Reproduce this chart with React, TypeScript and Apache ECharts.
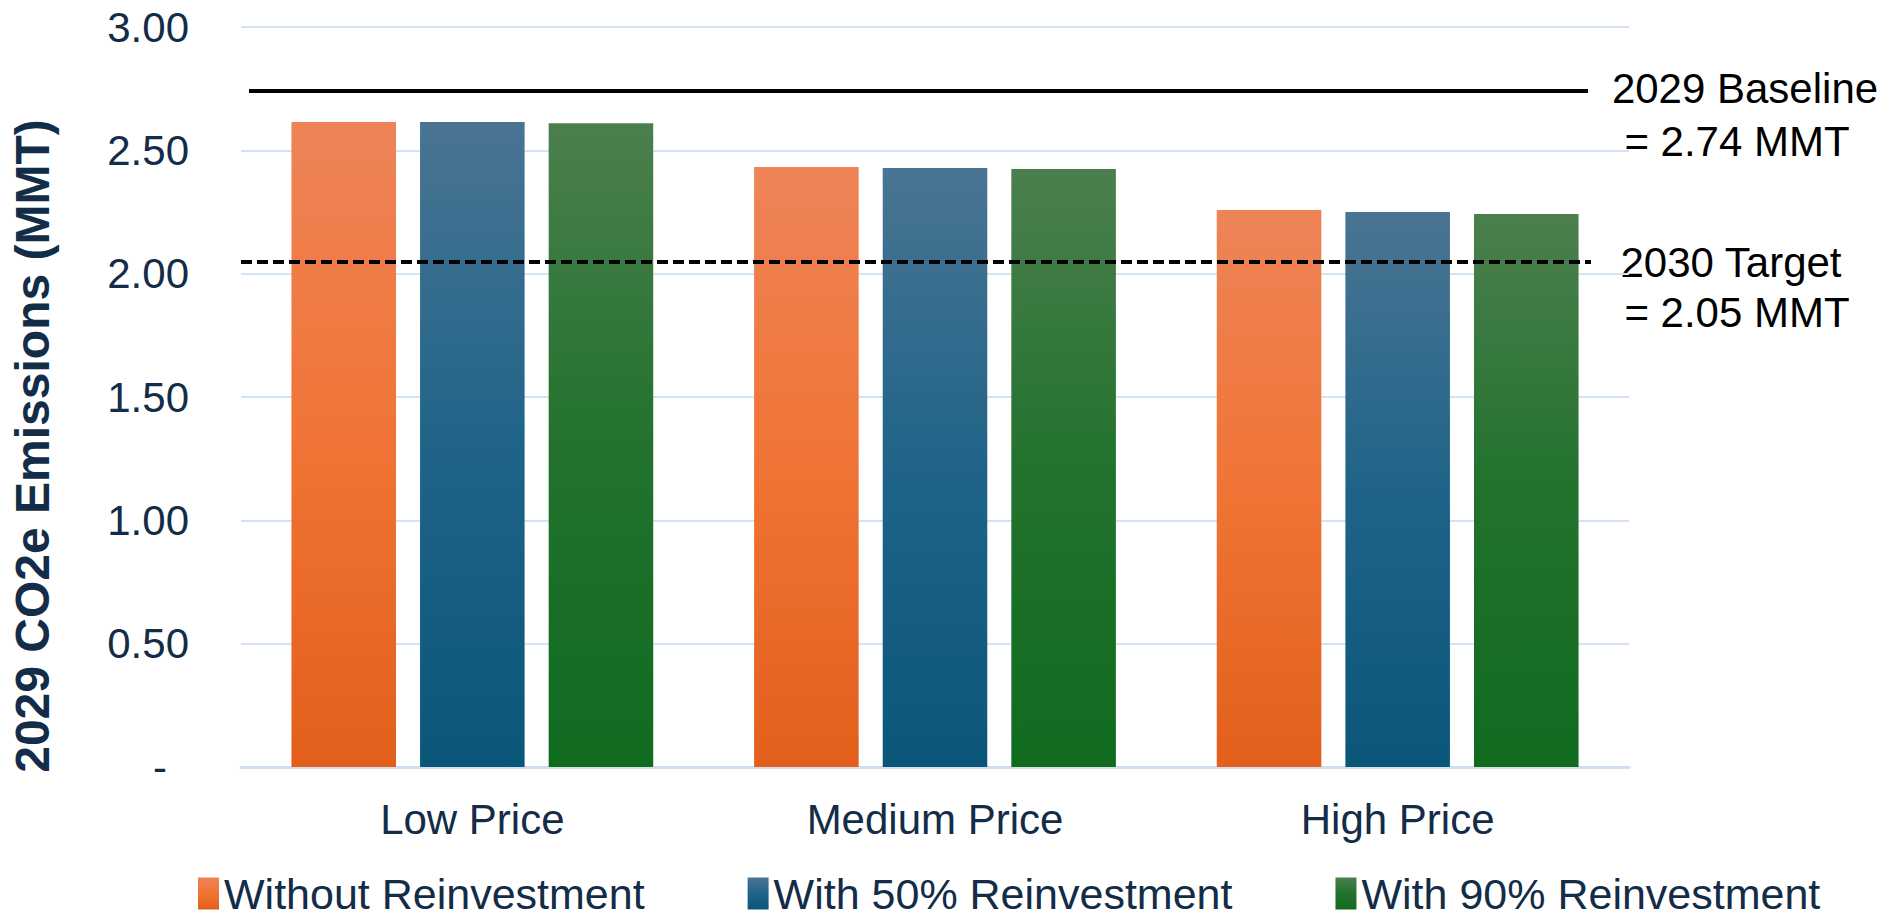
import React, { useEffect, useRef } from 'react';
import * as echarts from 'echarts';

const categories = ['Low Price', 'Medium Price', 'High Price'];
const seriesNames = ['Without Reinvestment', 'With 50% Reinvestment', 'With 90% Reinvestment'];
const withoutReinvestment = [2.615, 2.432, 2.258];
const with50Reinvestment = [2.615, 2.428, 2.25];
const with90Reinvestment = [2.61, 2.424, 2.242];
const baselineValue = 2.74;
const targetValue = 2.05;
const baselineLabel = ['2029 Baseline', '= 2.74 MMT'];
const targetLabel = ['2030 Target', '= 2.05 MMT'];
const yAxisTitle = '2029 CO2e Emissions (MMT)';

const FONT = 'Arial, "Liberation Sans", Helvetica, sans-serif';
const NAVY = '#132C47';

const grad = (stops: string[]) =>
  new echarts.graphic.LinearGradient(0, 0, 0, 1, [
    { offset: 0, color: stops[0] },
    { offset: 0.5, color: stops[1] },
    { offset: 1, color: stops[2] },
  ]);

const palettes = [
  ['#EE8458', '#F07435', '#E35F1B'],
  ['#4A7493', '#1F6488', '#0A5679'],
  ['#4B7F4E', '#22722D', '#106B1F'],
];

export default function App() {
  const ref = useRef<HTMLDivElement>(null);
  useEffect(() => {
    document.body.style.margin = '0';
    const chart = echarts.init(ref.current!, null, { renderer: 'svg' });
    const values = [withoutReinvestment, with50Reinvestment, with90Reinvestment];
    const series: any[] = values.map((vals, i) => ({
      name: seriesNames[i],
      type: 'bar',
      data: vals,
      barWidth: '22.6%',
      barGap: '23%',
      itemStyle: { color: grad(palettes[i]) },
      emphasis: { disabled: true },
    }));
    series[0].markLine = {
      silent: true,
      symbol: 'none',
      label: { show: false },
      data: [
        [
          { x: 249, yAxis: baselineValue, lineStyle: { color: '#000', width: 4, type: 'solid' } },
          { x: 1588, yAxis: baselineValue },
        ],
        [
          { x: 241, yAxis: targetValue, lineStyle: { color: '#000', width: 4, type: [11, 5] } },
          { x: 1591, yAxis: targetValue },
        ],
      ],
    };
    const option: any = {
      animation: false,
      backgroundColor: '#fff',
      grid: { left: 241, right: 260, top: 27, bottom: 153 },
      xAxis: {
        type: 'category',
        data: categories,
        axisTick: { show: false },
        axisLine: { lineStyle: { color: '#CFDFF0', width: 3 } },
        axisLabel: { color: NAVY, fontSize: 42, fontFamily: FONT, margin: 31 },
      },
      yAxis: {
        type: 'value',
        min: 0,
        max: 3,
        interval: 0.5,
        axisLine: { show: false },
        axisTick: { show: false },
        splitLine: { lineStyle: { color: '#D4E3F3', width: 2 } },
        axisLabel: {
          margin: 52,
          color: NAVY,
          fontSize: 42,
          fontFamily: FONT,
          formatter: (v: number) => (v === 0 ? '{d|-}' : v.toFixed(2)),
          rich: {
            d: { color: NAVY, fontSize: 42, fontFamily: FONT, padding: [0, 22, 0, 0] },
          },
        },
      },
      legend: {
        data: seriesNames,
        left: 193,
        top: 867,
        icon: 'rect',
        itemWidth: 21,
        itemHeight: 32,
        itemGap: 103,
        itemTextGap: 11,
        selectedMode: false,
        textStyle: { color: NAVY, fontSize: 43, fontFamily: FONT },
      },
      graphic: [
        {
          type: 'text',
          x: 32,
          y: 446,
          rotation: Math.PI / 2,
          style: {
            text: yAxisTitle,
            fill: NAVY,
            font: `bold 48px ${FONT}`,
            textAlign: 'center',
            textVerticalAlign: 'middle',
          },
        },
        {
          type: 'text', x: 1745, y: 88,
          style: { text: baselineLabel[0], fill: '#000', font: `42px ${FONT}`, textAlign: 'center', textVerticalAlign: 'middle' },
        },
        {
          type: 'text', x: 1737, y: 141,
          style: { text: baselineLabel[1], fill: '#000', font: `42px ${FONT}`, textAlign: 'center', textVerticalAlign: 'middle' },
        },
        {
          type: 'text', x: 1731, y: 262,
          style: { text: targetLabel[0], fill: '#000', font: `42px ${FONT}`, textAlign: 'center', textVerticalAlign: 'middle' },
        },
        {
          type: 'text', x: 1737, y: 312,
          style: { text: targetLabel[1], fill: '#000', font: `42px ${FONT}`, textAlign: 'center', textVerticalAlign: 'middle' },
        },
      ],
      series,
    };
    chart.setOption(option);
    return () => chart.dispose();
  }, []);
  return <div ref={ref} style={{ width: 1889, height: 920 }} />;
}
